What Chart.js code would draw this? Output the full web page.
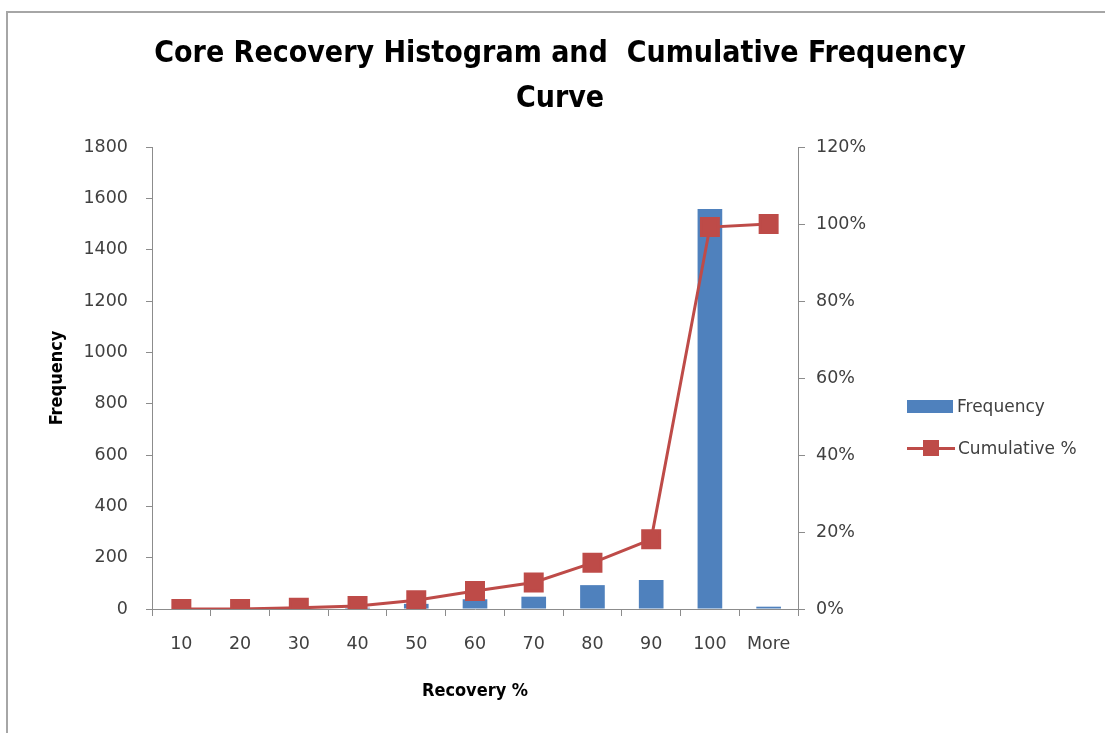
<!DOCTYPE html>
<html>
<head>
<meta charset="utf-8">
<script src="https://cdn.jsdelivr.net/npm/chart.js@4/dist/chart.umd.min.js"></script>
<style>
  html, body { margin: 0; padding: 0; background: #fff; }
  #wrap { position: relative; width: 1105px; height: 733px; overflow: hidden; }
  #frame { position: absolute; left: 6px; top: 11px; width: 1200px; height: 800px;
    border-top: 2px solid #a6a6a6; border-left: 2px solid #a6a6a6; pointer-events: none; }
  #legend { position: absolute; left: 907px; top: 395px; font-family: "DejaVu Sans", sans-serif;
    font-size: 17px; color: #404040; }
  .leg-row { display: flex; align-items: center; height: 22px; margin-bottom: 20px; }
  .leg-bar { width: 46px; height: 13px; background: #4F81BD; margin-right: 4px; }
  .leg-line { position: relative; width: 48px; height: 3px; background: #BE4B48; margin-right: 3px; }
  .leg-line::after { content: ""; position: absolute; left: 16px; top: -7px; width: 16px; height: 16px; background: #BE4B48; }
</style>
</head>
<body>
<div id="wrap">
  <canvas id="chart" width="1105" height="733"></canvas>
  <div id="frame"></div>
  <div id="legend">
    <div class="leg-row"><span class="leg-bar"></span>Frequency</div>
    <div class="leg-row"><span class="leg-line"></span>Cumulative %</div>
  </div>
</div>
<script>
// bins and values
const bins = ["10", "20", "30", "40", "50", "60", "70", "80", "90", "100", "More"];
const frequency = [0, 0, 5, 5, 20, 38, 48, 93, 113, 1558, 9];
const cumulativePct = [0, 0, 0.3, 0.8, 2.3, 4.7, 6.9, 12.0, 18.1, 99.2, 100];

const BLUE = "#4F81BD";
const RED = "#BE4B48";
const AXIS = "#8c8c8c";
const TICK_FONT = { family: "DejaVu Sans", size: 17.5 };
const NARROW = "Liberation Sans Narrow, DejaVu Sans Condensed, Arial Narrow, sans-serif";
const LABEL_FONT = { family: NARROW, size: 18, weight: "bold" };

Chart.defaults.color = "#404040";
Chart.defaults.animation = false;

new Chart(document.getElementById("chart"), {
  data: {
    labels: bins,
    datasets: [
      { type: "line", label: "Cumulative %", data: cumulativePct, yAxisID: "yPct", order: 0,
        borderColor: RED, backgroundColor: RED, borderWidth: 3, tension: 0,
        pointStyle: "rect", pointRadius: 12, pointHoverRadius: 12 },
      { type: "bar", label: "Frequency", data: frequency, yAxisID: "yFreq", order: 1,
        backgroundColor: BLUE, barPercentage: 0.42, categoryPercentage: 1 }
    ]
  },
  options: {
    responsive: false,
    layout: { padding: { left: 20, right: 5, top: 12, bottom: 20 } },
    plugins: {
      legend: { display: false },
      tooltip: { enabled: false },
      title: {
        display: true,
        text: ["Core Recovery Histogram and  Cumulative Frequency", "Curve"],
        color: "#000",
        font: { family: NARROW, size: 30, weight: "bold", lineHeight: 1.5 },
        padding: { top: 20, bottom: 25 }
      }
    },
    scales: {
      x: {
        offset: true,
        grid: { offset: true, drawOnChartArea: false, tickLength: 7, color: AXIS },
        border: { color: AXIS },
        ticks: { font: TICK_FONT, padding: 18, maxRotation: 0 },
        title: { display: true, text: "Recovery %", font: LABEL_FONT, color: "#000", padding: { top: 4, bottom: 11 } },
        afterFit: s => { s.height = 733 - 609 - 20; }
      },
      yFreq: {
        position: "left", min: 0, max: 1800,
        grid: { drawOnChartArea: false, tickLength: 6, color: AXIS },
        border: { color: AXIS },
        ticks: { stepSize: 200, font: TICK_FONT, padding: 18, callback: v => String(v) },
        title: { display: true, text: "Frequency", font: LABEL_FONT, color: "#000", padding: { top: 27, bottom: 0 } },
        afterFit: s => { s.width = 152 - 20; }
      },
      yPct: {
        position: "right", min: 0, max: 120,
        grid: { drawOnChartArea: false, tickLength: 7, color: AXIS },
        border: { color: AXIS },
        ticks: { stepSize: 20, font: TICK_FONT, padding: 11, callback: v => v + "%" },
        afterFit: s => { s.width = 1105 - 5 - 798; }
      }
    }
  }
});
</script>
</body>
</html>
